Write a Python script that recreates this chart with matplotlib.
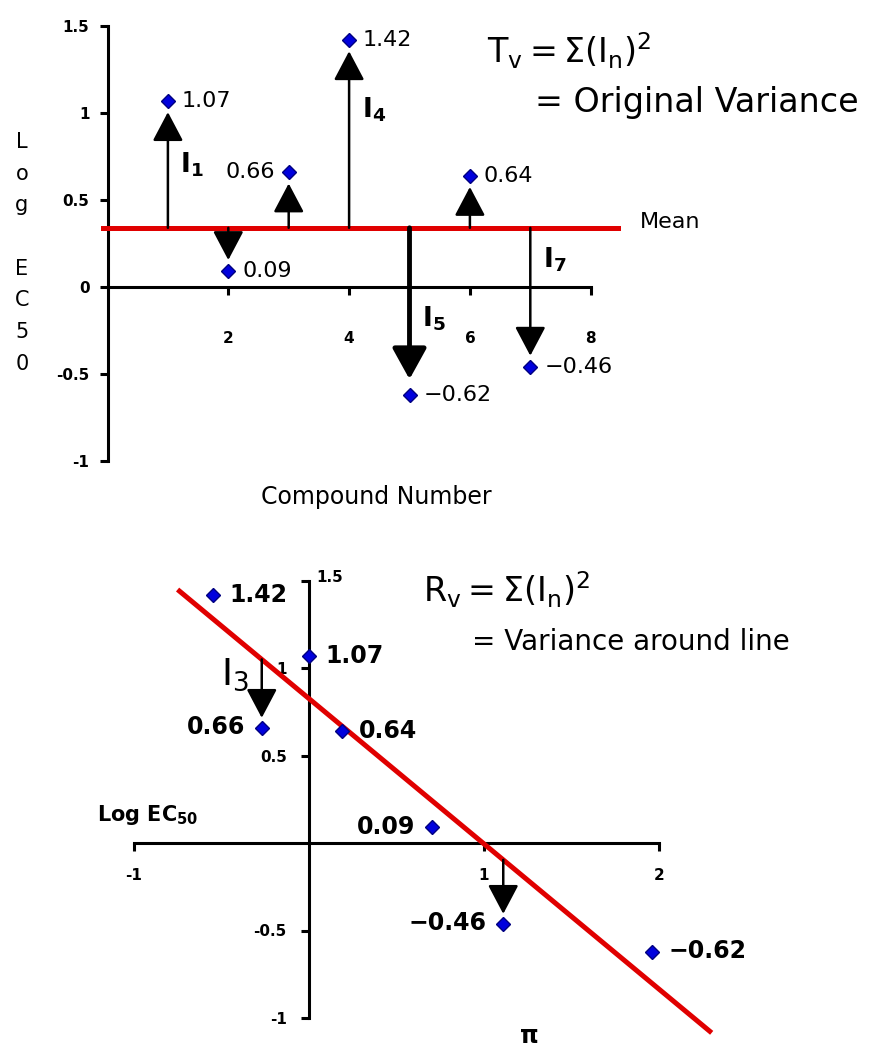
import numpy as np
import matplotlib.pyplot as plt

# compound data: number, log EC50 and pi (hydrophobicity)
compound = [1, 2, 3, 4, 5, 6, 7]
log_ec50 = [1.07, 0.09, 0.66, 1.42, -0.62, 0.64, -0.46]
value_text = ['1.07', '0.09', '0.66', '1.42', '\u22120.62', '0.64', '\u22120.46']
pi_vals = [0.0, 0.70, -0.27, -0.55, 1.96, 0.19, 1.11]

mean_level = 0.34          # mean line as drawn
line_slope = -0.83         # hand drawn regression line
line_icpt = 0.825
line_x = [-0.74, 2.29]

top_xticks = [2, 4, 6, 8]
top_yticks = [1.5, 1, 0.5, 0, -0.5, -1]
top_ylabels = ['1.5', '1', '0.5', '0', '-0.5', '-1']
bot_xticks = [-1, 1, 2]
bot_xlabels = ['-1', '1', '2']
bot_yticks = [1.5, 1, 0.5, -0.5, -1]
bot_ylabels = ['', '1', '0.5', '-0.5', '-1']

# which residuals get drawn / labelled
top_arrow_labels = {1: 0.70, 4: 1.02, 5: -0.18, 7: 0.155}
bot_arrows = [2, 6]

RED = '#e00000'
BLUE = '#0000dd'
W, H = 878, 1050

fig = plt.figure(figsize=(W / 100, H / 100), dpi=100)
ax1 = fig.add_axes([0, 0.5, 1, 0.5])
ax2 = fig.add_axes([0, 0, 1, 0.5])

for ax in (ax1, ax2):
    ax.patch.set_visible(False)
    for s in ('top', 'right'):
        ax.spines[s].set_visible(False)
    for s in ('left', 'bottom'):
        ax.spines[s].set_position(('data', 0))
        ax.spines[s].set_linewidth(2.2)
    ax.tick_params(direction='out', length=6, width=2.2)


def arrow(ax, x, y0, y1, lw=1.8, hl=18, hw=9.5):
    ax.annotate('', xy=(x, y1), xytext=(x, y0),
                arrowprops=dict(arrowstyle=f'-|>,head_length={hl},head_width={hw}',
                                mutation_scale=1, lw=lw, color='k',
                                shrinkA=0, shrinkB=0), zorder=4)


# ---- top panel: deviations from the mean ----
ax1.set_xlim(-107.5 / 60.4, (W - 107.5) / 60.4)
ax1.set_ylim(-(525 - 287) / 174, 287 / 174)
ax1.spines['left'].set_bounds(-1, 1.5)
ax1.spines['bottom'].set_bounds(0, 8)
ax1.set_xticks(top_xticks)
ax1.set_xticklabels([str(t) for t in top_xticks], fontsize=11, fontweight='bold')
ax1.set_yticks(top_yticks)
ax1.set_yticklabels(top_ylabels, fontsize=11, fontweight='bold')
ax1.tick_params(axis='x', pad=26)
ax1.tick_params(axis='y', pad=7)

ax1.plot([-0.07, 8.45], [mean_level, mean_level], color=RED, lw=3.6, zorder=3)
ax1.text(8.82, mean_level + 0.035, 'Mean', fontsize=16, va='center')

gap = 0.065
for x, y in zip(compound, log_ec50):
    s = 1 if y > mean_level else -1
    if x == 5:
        arrow(ax1, x, mean_level, y - s * 0.09, lw=3.5, hl=19, hw=10.5)
    else:
        arrow(ax1, x, mean_level, y - s * gap)

ax1.plot(compound, log_ec50, 'D', ms=7, color=BLUE, mec='#000080', mew=1, zorder=5)
for x, y, t in zip(compound, log_ec50, value_text):
    left = (t == '0.66')
    ax1.annotate(t, (x, y), xytext=(-10 if left else 10, 0), textcoords='offset points',
                 ha='right' if left else 'left', va='center', fontsize=16)

for n, ly in top_arrow_labels.items():
    ax1.annotate(rf'$\mathbf{{I_{n}}}$', (n, ly), xytext=(9, 0), textcoords='offset points',
                 ha='left', va='center', fontsize=19)

fig.text(376 / W, 1 - 497 / H, 'Compound Number', fontsize=17, ha='center', va='center')
for i, ch in enumerate('Log EC50'):
    fig.text(22 / W, 1 - (148 + i * 31.7) / H, ch, fontsize=15, ha='center', va='baseline')

fig.text(487 / W, 1 - 63 / H, r'$\mathregular{T_v = \Sigma(I_n)^2}$', fontsize=24, va='baseline')
fig.text(535 / W, 1 - 112 / H, '= Original Variance', fontsize=24, va='baseline')

# ---- bottom panel: deviations from the regression line ----
ax2.set_xlim(-309 / 175, (W - 309) / 175)
ax2.set_ylim(-(H - 843) / 175, (843 - 525) / 175)
ax2.spines['left'].set_bounds(-1, 1.5)
ax2.spines['bottom'].set_bounds(-1, 2)
ax2.set_xticks(bot_xticks)
ax2.set_xticklabels(bot_xlabels, fontsize=11, fontweight='bold')
ax2.set_yticks(bot_yticks)
ax2.set_yticklabels(bot_ylabels, fontsize=11, fontweight='bold')
ax2.tick_params(axis='x', pad=12)
ax2.tick_params(axis='y', pad=10)
ax2.annotate('1.5', (0, 1.5), xytext=(5, 2), textcoords='offset points',
             ha='left', va='center', fontsize=11, fontweight='bold')

lx = np.array(line_x)
ax2.plot(lx, line_icpt + line_slope * lx, color=RED, lw=3.6, zorder=3)

for i in bot_arrows:
    x = pi_vals[i]
    arrow(ax2, x, line_icpt + line_slope * x, log_ec50[i] + 0.055)

ax2.plot(pi_vals, log_ec50, 'D', ms=7, color=BLUE, mec='#000080', mew=1, zorder=5)
left_side = ['0.66', '0.09', '\u22120.46']
for x, y, t in zip(pi_vals, log_ec50, value_text):
    left = t in left_side
    ax2.annotate(t, (x, y), xytext=(-12 if left else 12, 0), textcoords='offset points',
                 ha='right' if left else 'left', va='center', fontsize=17, fontweight='bold')

ax2.annotate(r'$\mathregular{I_3}$', (pi_vals[2], 0.96), xytext=(-9, 0), textcoords='offset points',
             ha='right', va='center', fontsize=27)
ax2.text(-1.21, 0.16, r'Log EC$_{\mathbf{50}}$', fontsize=15, fontweight='bold', va='center')
ax2.text(1.26, -1.105, '\u03c0', fontsize=17, fontweight='bold', ha='center', va='center')

fig.text(423 / W, 1 - 602 / H, r'$\mathregular{R_v = \Sigma(I_n)^2}$', fontsize=24, va='baseline')
fig.text(472 / W, 1 - 650 / H, '= Variance around line', fontsize=20, va='baseline')

fig.savefig('out.png', dpi=100)
